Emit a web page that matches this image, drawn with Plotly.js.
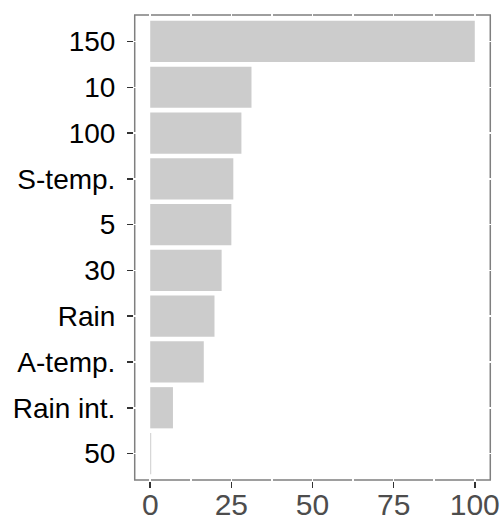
<!DOCTYPE html>
<html>
<head>
<meta charset="utf-8">
<script src="https://cdn.plot.ly/plotly-3.0.1.min.js"></script>
<style>html,body{margin:0;padding:0;background:#fff;}#chart{width:504px;height:521px;}</style>
</head>
<body>
<div id="chart"></div>
<script>
// categories listed top to bottom
const categories = ["150", "10", "100", "S-temp.", "5", "30", "Rain", "A-temp.", "Rain int.", "50"];
const importance = [100, 31.2, 28.1, 25.6, 25.0, 22.0, 19.8, 16.5, 7.0, 0.3];
const xTicks = [0, 25, 50, 75, 100];
const xTickLabels = ["0", "25", "50", "75", "100"];

const yCats = categories.slice().reverse();
const xVals = importance.slice().reverse();

const xRange = [-5, 105];
const yRange = [-0.6, categories.length - 0.4];

const trace = {
  type: 'bar',
  orientation: 'h',
  x: xVals,
  y: yCats,
  width: 0.9,
  marker: {color: '#CCCCCC', line: {width: 0}},
  hoverinfo: 'x+y'
};

const layout = {
  width: 504, height: 521,
  margin: {l: 133.5, r: 13, t: 14, b: 40, pad: 0},
  paper_bgcolor: '#FFFFFF',
  plot_bgcolor: '#FFFFFF',
  showlegend: false,
  font: {family: '"Liberation Sans", Arial, sans-serif'},
  xaxis: {
    range: xRange,
    tickvals: xTicks,
    ticktext: xTickLabels,
    ticks: 'outside', ticklen: 6, tickwidth: 1.5, tickcolor: '#333333',
    ticklabelstandoff: -9,
    tickfont: {size: 30, color: '#4D4D4D'},
    showgrid: true, gridcolor: '#FFFFFF', gridwidth: 1.5,
    minor: {tickvals: [12.5, 37.5, 62.5, 87.5], showgrid: true, gridcolor: '#FFFFFF', gridwidth: 1.5, ticks: ''},
    zeroline: false, showline: false,
    fixedrange: true
  },
  yaxis: {
    type: 'category',
    categoryorder: 'array',
    categoryarray: yCats,
    range: yRange,
    ticks: 'outside', ticklen: 6, tickwidth: 1.5, tickcolor: '#333333',
    ticklabelstandoff: 6,
    tickfont: {size: 28, color: '#000000'},
    showgrid: true, gridcolor: '#FFFFFF', gridwidth: 1.5,
    zeroline: false, showline: false,
    fixedrange: true
  },
  shapes: [{
    type: 'rect', layer: 'below',
    xref: 'paper', yref: 'paper',
    x0: 0.002, x1: 0.998, y0: 0.002, y1: 0.998,
    line: {color: '#7F7F7F', width: 1.5},
    fillcolor: 'rgba(0,0,0,0)'
  }],
  bargap: 0.1
};

Plotly.newPlot('chart', [trace], layout, {displayModeBar: false, staticPlot: true});
</script>
</body>
</html>
